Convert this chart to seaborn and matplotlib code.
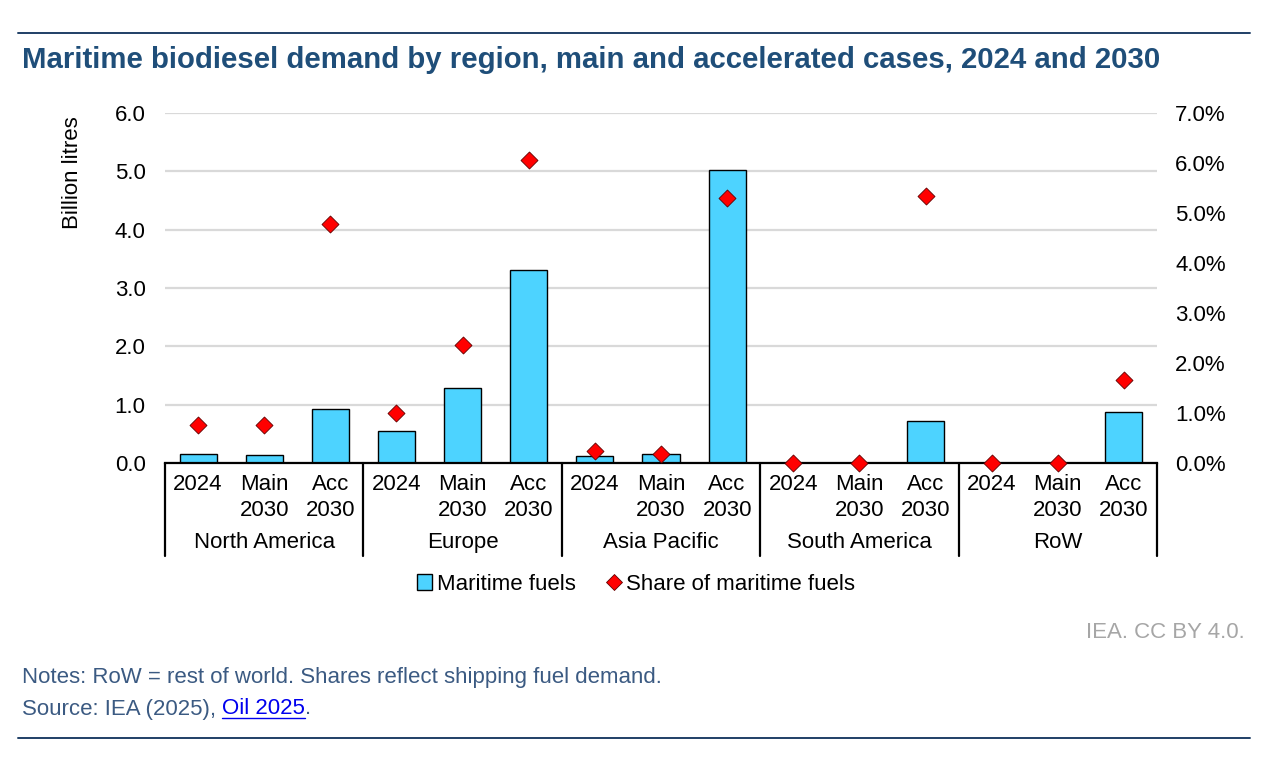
import numpy as np
import pandas as pd
import matplotlib
matplotlib.use("Agg")
import matplotlib.pyplot as plt
import seaborn as sns
from matplotlib.lines import Line2D
from matplotlib.patches import Patch
from matplotlib.ticker import FuncFormatter

# data
regions = ["North America", "Europe", "Asia Pacific", "South America", "RoW"]
cases = ["2024", "Main\n2030", "Acc\n2030"]
maritime_fuels = [0.15, 0.14, 0.92,
                  0.54, 1.29, 3.31,
                  0.12, 0.15, 5.02,
                  0.00, 0.00, 0.72,
                  0.00, 0.00, 0.87]
share_pct = [0.76, 0.76, 4.78,
             0.99, 2.35, 6.05,
             0.24, 0.17, 5.29,
             0.00, 0.00, 5.33,
             0.00, 0.00, 1.65]

BAR_COLOR = "#4DD3FF"
DIAMOND_COLOR = "#FF0000"
TITLE_COLOR = "#1F4E79"
NOTE_COLOR = "#3B5A82"
W, H = 1280, 763
FS = 16

sns.set_theme(style="white")
plt.rcParams["font.family"] = ["Liberation Sans", "DejaVu Sans"]
plt.rcParams["text.color"] = "black"
plt.rcParams["xtick.color"] = "black"
plt.rcParams["ytick.color"] = "black"

df = pd.DataFrame({
    "region": np.repeat(regions, len(cases)),
    "case": cases * len(regions),
    "fuel": maritime_fuels,
    "share": np.array(share_pct) / 100,
})
df["slot"] = df["region"] + "|" + df["case"]
df["pos"] = np.arange(len(df))


def fx(x):
    return x / W


def fy(y):
    return 1 - y / H


fig = plt.figure(figsize=(W / 100, H / 100), dpi=100)
ax_left, ax_right, ax_top, ax_bot = 165, 1157, 113, 463
ax = fig.add_axes([fx(ax_left), fy(ax_bot), fx(ax_right - ax_left), (ax_bot - ax_top) / H])

sns.barplot(data=df, x="slot", y="fuel", order=list(df["slot"]), color=BAR_COLOR,
            edgecolor="black", linewidth=1.0, width=0.56, saturation=1, ax=ax, zorder=3)
ax.set_xlim(-0.5, len(df) - 0.5)
ax.set_ylim(0, 6)
ax.set_yticks(np.arange(0, 7, 1))
ax.yaxis.set_major_formatter(FuncFormatter(lambda v, p: f"{v:.1f}"))
ax.set_xticks(df["pos"])
ax.set_xticklabels(df["case"], fontsize=FS, va="top", linespacing=1.3)
ax.tick_params(axis="x", length=0, pad=8)
ax.tick_params(axis="y", length=0, pad=14, labelsize=FS)
ax.yaxis.grid(True, color="#D9D9D9", linewidth=1.6, zorder=0)
ax.set_axisbelow(True)
ax.set_xlabel("")
ax.set_ylabel("")
for s in ["left", "right", "top"]:
    ax.spines[s].set_visible(False)
ax.spines["bottom"].set_color("black")
ax.spines["bottom"].set_linewidth(1.6)
ax.spines["bottom"].set_zorder(4)

# group boxes under the category axis
trans = ax.get_xaxis_transform()
for b in np.arange(-0.5, len(df), len(cases)):
    ax.plot([b, b], [0, -0.265], transform=trans, color="black", lw=1.6, clip_on=False)
for i, r in enumerate(regions):
    ax.text(i * len(cases) + 1, -0.226, r, transform=trans, ha="center", va="center",
            fontsize=FS, color="black")

ax2 = ax.twinx()
sns.scatterplot(data=df, x="pos", y="share", marker="D", s=75, color=DIAMOND_COLOR,
                edgecolor="#600000", linewidth=0.6, ax=ax2, zorder=5, clip_on=False, legend=False)
ax2.set_ylim(0, 0.07)
ax2.set_yticks(np.arange(0, 0.0701, 0.01))
ax2.yaxis.set_major_formatter(FuncFormatter(lambda v, p: f"{v * 100:.1f}%"))
ax2.tick_params(axis="y", length=0, pad=13, labelsize=FS)
ax2.set_xlabel("")
ax2.set_ylabel("")
for s in ax2.spines.values():
    s.set_visible(False)

fig.text(fx(73), fy(173), "Billion litres", rotation=90, ha="center", va="center", fontsize=FS)

# legend
handles = [Patch(facecolor=BAR_COLOR, edgecolor="black", linewidth=1.0, label="Maritime fuels"),
           Line2D([], [], marker="D", linestyle="none", markersize=8, markerfacecolor=DIAMOND_COLOR,
                  markeredgecolor="#600000", markeredgewidth=0.6, label="Share of maritime fuels")]
fig.legend(handles=handles, loc="center", bbox_to_anchor=(fx(636), fy(584)), ncol=2, frameon=False,
           fontsize=FS, handlelength=0.7, handleheight=0.7, handletextpad=0.2, columnspacing=1.4)

# title, rules and footer
fig.add_artist(Line2D([fx(18), fx(1250)], [fy(33), fy(33)], color="#1F3F66", lw=1.4))
fig.add_artist(Line2D([fx(18), fx(1250)], [fy(738), fy(738)], color="#1F3F66", lw=1.4))
fig.text(fx(22), fy(60), "Maritime biodiesel demand by region, main and accelerated cases, 2024 and 2030",
         ha="left", va="center", fontsize=21.2, fontweight="bold", color=TITLE_COLOR)
fig.text(fx(1245), fy(633), "IEA. CC BY 4.0.", ha="right", va="center", fontsize=FS, color="#A6A6A6")
fig.text(fx(22), fy(677), "Notes: RoW = rest of world. Shares reflect shipping fuel demand.",
         ha="left", va="center", fontsize=FS, color=NOTE_COLOR)

renderer = fig.canvas.get_renderer()
t1 = fig.text(fx(22), fy(709), "Source: IEA (2025), ", ha="left", va="center", fontsize=FS, color=NOTE_COLOR)
x1 = t1.get_window_extent(renderer).x1 / W
t2 = fig.text(x1, fy(709), "Oil 2025", ha="left", va="center", fontsize=FS, color="#0000EE")
bb2 = t2.get_window_extent(renderer)
fig.add_artist(Line2D([bb2.x0 / W, bb2.x1 / W], [bb2.y0 / H + 0.002, bb2.y0 / H + 0.002],
                      color="#0000EE", lw=1.0))
fig.text(bb2.x1 / W, fy(709), ".", ha="left", va="center", fontsize=FS, color=NOTE_COLOR)

fig.savefig("out.png", dpi=100, facecolor="white")
